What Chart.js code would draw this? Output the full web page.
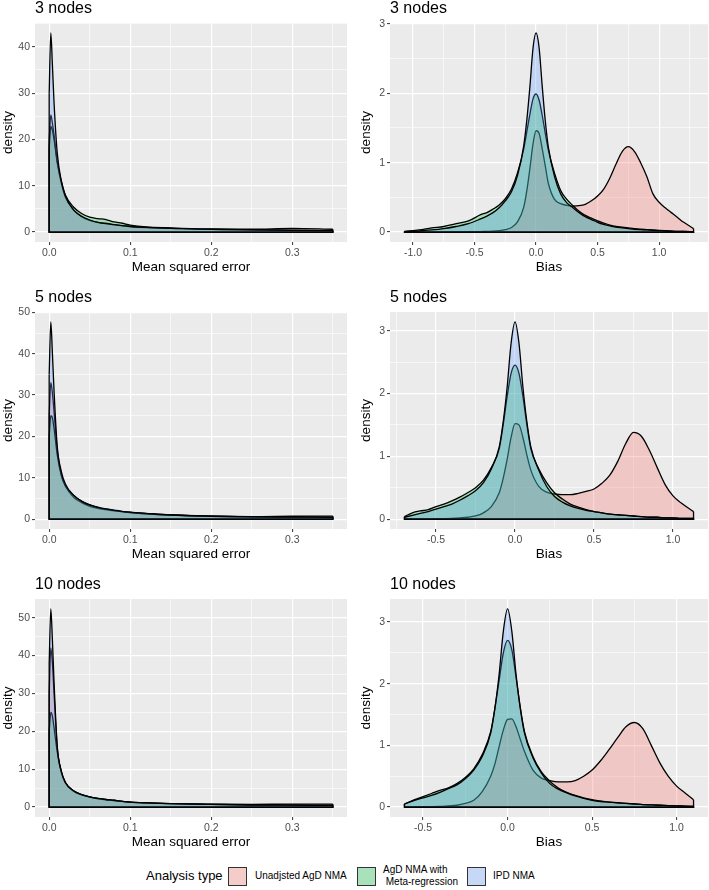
<!DOCTYPE html>
<html>
<head>
<meta charset="utf-8">
<script src="https://cdn.jsdelivr.net/npm/chart.js@4.4.1/dist/chart.umd.min.js"></script>
<style>
  body { margin: 0; background: #ffffff; width: 709px; height: 890px; position: relative; overflow: hidden;
         font-family: "Liberation Sans", Arial, sans-serif; }
  .legend-title { position: absolute; left: 146px; top: 868px; font-size: 13px; color: #000; }
  .legend-key { position: absolute; top: 867px; width: 19px; height: 19px; box-sizing: border-box;
                border: 1px solid #333333; background-color: #f2f2f2; }
  .legend-label { position: absolute; font-size: 10px; color: #000; white-space: pre; line-height: 12px; }
</style>
</head>
<body>
<script>
// ========================
// DATA
// ========================
const panelTitles = ["3 nodes", "5 nodes", "10 nodes"];
const seriesLabels = ["Unadjsted AgD NMA", "AgD NMA with\n Meta-regression", "IPD NMA"];
const legendTitle = "Analysis type";
const mseAxisTitle = "Mean squared error";
const biasAxisTitle = "Bias";
const yAxisTitle = "density";

// mean squared error densities
const mseX = [0, 0.002, 0.004, 0.006, 0.01, 0.015, 0.02, 0.03, 0.04, 0.05, 0.06, 0.07, 0.08, 0.09, 0.1, 0.12, 0.15, 0.2, 0.25, 0.3, 0.35];
const mse3Unadj = [20, 25.3, 23.5, 21, 15, 10.5, 7.5, 4.8, 3.3, 2.5, 2.1, 1.9, 1.6, 1.4, 1.2, 0.95, 0.8, 0.6, 0.6, 0.8, 0.6];
const mse3AgD   = [18, 22.8, 22, 20, 15, 11, 8, 5.4, 4.0, 3.2, 2.9, 2.7, 2.2, 1.9, 1.5, 1.1, 0.9, 0.6, 0.5, 0.4, 0.3];
const mse3IPD   = [30, 43, 36, 28, 17, 11, 7.8, 4.8, 3.4, 2.6, 2.1, 1.8, 1.6, 1.4, 1.2, 1.0, 0.8, 0.6, 0.45, 0.35, 0.3];
const mse5Unadj = [25, 33, 30.5, 26, 16.5, 10.8, 8, 5.3, 4.0, 3.1, 2.6, 2.3, 2.0, 1.8, 1.6, 1.3, 1.0, 0.7, 0.6, 0.7, 0.75];
const mse5AgD   = [20, 25, 24.5, 22, 15.5, 10.5, 8, 5.8, 4.4, 3.5, 2.8, 2.4, 2.1, 1.8, 1.6, 1.3, 1.0, 0.7, 0.55, 0.5, 0.45];
const mse5IPD   = [35, 47.7, 40, 31, 17.5, 11.5, 8.5, 5.8, 4.3, 3.4, 2.9, 2.5, 2.2, 1.9, 1.7, 1.4, 1.0, 0.7, 0.55, 0.5, 0.45];
const mse10Unadj = [30, 42, 38, 30, 15.5, 9.3, 6.4, 4.2, 3.2, 2.6, 2.2, 1.9, 1.7, 1.5, 1.3, 1.1, 0.9, 0.8, 0.7, 0.8, 0.8];
const mse10AgD   = [20, 25, 24, 21, 14.5, 9.2, 6.5, 4.3, 3.3, 2.7, 2.3, 2.0, 1.8, 1.5, 1.3, 1.1, 0.9, 0.7, 0.55, 0.5, 0.45];
const mse10IPD   = [38, 52.3, 44, 33, 16, 9.5, 6.5, 4.3, 3.3, 2.7, 2.3, 2.0, 1.8, 1.5, 1.3, 1.1, 0.9, 0.7, 0.55, 0.5, 0.45];

// bias densities
const bias3X = [-1.07, -0.95, -0.85, -0.75, -0.65, -0.55, -0.45, -0.4, -0.35, -0.3, -0.25, -0.2, -0.15, -0.1, -0.075, -0.05, -0.025, 0, 0.025, 0.05, 0.075, 0.1, 0.15, 0.2, 0.25, 0.3, 0.35, 0.4, 0.45, 0.5, 0.55, 0.6, 0.65, 0.7, 0.75, 0.8, 0.85, 0.9, 0.95, 1.0, 1.05, 1.1, 1.15, 1.2, 1.28];
const bias3Unadj = [0, 0, 0, 0, 0.002, 0.004, 0.006, 0.01, 0.012, 0.02, 0.035, 0.065, 0.15, 0.36, 0.6, 0.92, 1.27, 1.46, 1.42, 1.2, 0.95, 0.7, 0.47, 0.41, 0.385, 0.375, 0.38, 0.4, 0.45, 0.52, 0.62, 0.78, 0.98, 1.16, 1.23, 1.16, 1.0, 0.8, 0.55, 0.43, 0.35, 0.28, 0.21, 0.14, 0.05];
const bias3AgD   = [0.01, 0.03, 0.06, 0.08, 0.12, 0.16, 0.25, 0.28, 0.33, 0.39, 0.48, 0.62, 0.86, 1.2, 1.45, 1.7, 1.92, 1.99, 1.9, 1.68, 1.42, 1.18, 0.85, 0.6, 0.47, 0.38, 0.3, 0.24, 0.2, 0.16, 0.13, 0.1, 0.08, 0.07, 0.06, 0.05, 0.04, 0.035, 0.03, 0.025, 0.02, 0.015, 0.01, 0.01, 0.005];
const bias3IPD   = [0.005, 0.015, 0.03, 0.05, 0.08, 0.12, 0.19, 0.23, 0.28, 0.35, 0.45, 0.58, 0.82, 1.25, 1.62, 2.1, 2.65, 2.87, 2.65, 2.1, 1.6, 1.22, 0.8, 0.55, 0.42, 0.35, 0.28, 0.22, 0.18, 0.14, 0.11, 0.09, 0.07, 0.06, 0.05, 0.04, 0.035, 0.03, 0.025, 0.02, 0.015, 0.01, 0.01, 0.01, 0.005];

const bias5X = [-0.7, -0.65, -0.6, -0.55, -0.5, -0.45, -0.4, -0.35, -0.3, -0.25, -0.2, -0.15, -0.1, -0.075, -0.05, -0.025, 0, 0.025, 0.05, 0.075, 0.1, 0.15, 0.2, 0.25, 0.3, 0.35, 0.4, 0.45, 0.5, 0.55, 0.6, 0.65, 0.7, 0.75, 0.8, 0.85, 0.9, 0.95, 1.0, 1.05, 1.13];
const bias5Unadj = [0, 0, 0, 0, 0.005, 0.008, 0.012, 0.02, 0.03, 0.05, 0.1, 0.2, 0.42, 0.65, 0.95, 1.3, 1.52, 1.5, 1.3, 1.02, 0.78, 0.52, 0.43, 0.4, 0.39, 0.39, 0.41, 0.44, 0.48, 0.57, 0.7, 0.92, 1.2, 1.38, 1.32, 1.1, 0.82, 0.55, 0.37, 0.26, 0.12];
const bias5AgD   = [0.04, 0.1, 0.13, 0.15, 0.2, 0.24, 0.29, 0.35, 0.42, 0.5, 0.62, 0.82, 1.12, 1.5, 1.95, 2.32, 2.45, 2.32, 1.95, 1.5, 1.12, 0.8, 0.58, 0.42, 0.32, 0.24, 0.19, 0.15, 0.12, 0.1, 0.08, 0.07, 0.06, 0.05, 0.04, 0.03, 0.03, 0.02, 0.02, 0.01, 0.01];
const bias5IPD   = [0.03, 0.06, 0.09, 0.12, 0.16, 0.2, 0.24, 0.3, 0.37, 0.45, 0.58, 0.8, 1.15, 1.55, 2.1, 2.8, 3.14, 2.8, 2.1, 1.55, 1.15, 0.78, 0.52, 0.36, 0.27, 0.21, 0.17, 0.14, 0.12, 0.1, 0.08, 0.07, 0.06, 0.05, 0.04, 0.03, 0.03, 0.02, 0.02, 0.01, 0.01];

const bias10X = [-0.61, -0.55, -0.5, -0.45, -0.4, -0.35, -0.3, -0.25, -0.2, -0.15, -0.1, -0.075, -0.05, -0.025, 0, 0.025, 0.05, 0.075, 0.1, 0.15, 0.2, 0.25, 0.3, 0.35, 0.4, 0.45, 0.5, 0.55, 0.6, 0.65, 0.7, 0.75, 0.8, 0.85, 0.9, 0.95, 1.0, 1.05, 1.1];
const bias10Unadj = [0, 0.002, 0.004, 0.006, 0.01, 0.02, 0.03, 0.06, 0.11, 0.25, 0.5, 0.7, 0.98, 1.25, 1.42, 1.43, 1.3, 1.1, 0.9, 0.6, 0.47, 0.43, 0.41, 0.41, 0.43, 0.5, 0.6, 0.75, 0.93, 1.12, 1.3, 1.37, 1.27, 1.0, 0.72, 0.5, 0.34, 0.23, 0.12];
const bias10AgD   = [0.05, 0.12, 0.17, 0.22, 0.27, 0.31, 0.38, 0.48, 0.62, 0.85, 1.22, 1.6, 2.05, 2.5, 2.7, 2.55, 2.1, 1.62, 1.22, 0.82, 0.57, 0.42, 0.31, 0.24, 0.19, 0.15, 0.12, 0.1, 0.08, 0.07, 0.06, 0.05, 0.04, 0.035, 0.03, 0.025, 0.02, 0.015, 0.01];
const bias10IPD   = [0.05, 0.11, 0.15, 0.19, 0.24, 0.3, 0.36, 0.46, 0.6, 0.82, 1.2, 1.6, 2.15, 2.85, 3.21, 2.85, 2.15, 1.6, 1.2, 0.8, 0.55, 0.38, 0.29, 0.23, 0.18, 0.14, 0.11, 0.09, 0.08, 0.07, 0.06, 0.05, 0.04, 0.035, 0.03, 0.025, 0.02, 0.015, 0.01];

// tick values
const mseXTicks = [0, 0.1, 0.2, 0.3];
const mseXMinor = [0.05, 0.15, 0.25, 0.35];
const mse3YTicks = [0, 10, 20, 30, 40];
const mse5YTicks = [0, 10, 20, 30, 40, 50];
const mseYMinor = [5, 15, 25, 35, 45];
const biasXTicks = [-1, -0.5, 0, 0.5, 1];
const biasXMinor = [-1.25, -0.75, -0.25, 0.25, 0.75, 1.25];
const biasYTicks = [0, 1, 2, 3];
const biasYMinor = [0.5, 1.5, 2.5, 3.5];

// ========================
// STYLE
// ========================
const FONT = '"Liberation Sans", Arial, sans-serif';
const fillColors = ["rgba(248,118,109,0.3)", "rgba(0,186,56,0.3)", "rgba(97,156,255,0.3)"];
const PANEL_BG = "#EBEBEB";
const OUTLINE_W = 1.3;

Chart.defaults.font.family = FONT;

const panels = [
  { title: panelTitles[0], x: mseX, series: [mse3Unadj, mse3AgD, mse3IPD], xMajor: mseXTicks, xMinor: mseXMinor, yMajor: mse3YTicks, yMinor: mseYMinor, xTitle: mseAxisTitle,
    box: { left: 0, top: 0, width: 355, height: 278, padTop: 23, axisW: 35, padRight: 8 } },
  { title: panelTitles[0], x: bias3X, series: [bias3Unadj, bias3AgD, bias3IPD], xMajor: biasXTicks, xMinor: biasXMinor, yMajor: biasYTicks, yMinor: biasYMinor, xTitle: biasAxisTitle,
    box: { left: 358, top: 0, width: 351, height: 278, padTop: 23, axisW: 32, padRight: 1 } },
  { title: panelTitles[1], x: mseX, series: [mse5Unadj, mse5AgD, mse5IPD], xMajor: mseXTicks, xMinor: mseXMinor, yMajor: mse5YTicks, yMinor: mseYMinor, xTitle: mseAxisTitle,
    box: { left: 0, top: 280, width: 355, height: 285, padTop: 32, axisW: 35, padRight: 8 } },
  { title: panelTitles[1], x: bias5X, series: [bias5Unadj, bias5AgD, bias5IPD], xMajor: biasXTicks, xMinor: biasXMinor, yMajor: biasYTicks, yMinor: biasYMinor, xTitle: biasAxisTitle,
    box: { left: 358, top: 280, width: 351, height: 285, padTop: 32, axisW: 32, padRight: 1 } },
  { title: panelTitles[2], x: mseX, series: [mse10Unadj, mse10AgD, mse10IPD], xMajor: mseXTicks, xMinor: mseXMinor, yMajor: mse5YTicks, yMinor: mseYMinor, xTitle: mseAxisTitle,
    box: { left: 0, top: 570, width: 355, height: 283, padTop: 29, axisW: 35, padRight: 8 } },
  { title: panelTitles[2], x: bias10X, series: [bias10Unadj, bias10AgD, bias10IPD], xMajor: biasXTicks, xMinor: biasXMinor, yMajor: biasYTicks, yMinor: biasYMinor, xTitle: biasAxisTitle,
    box: { left: 358, top: 570, width: 351, height: 283, padTop: 29, axisW: 32, padRight: 1 } }
];

// ========================
// PLUGINS
// ========================
const panelBgPlugin = {
  id: "panelBg",
  beforeDraw(chart) {
    const a = chart.chartArea;
    const ctx = chart.ctx;
    ctx.save();
    ctx.fillStyle = PANEL_BG;
    ctx.fillRect(a.left, a.top, a.right - a.left, a.bottom - a.top);
    ctx.restore();
  }
};

const panelTitlePlugin = {
  id: "panelTitle",
  afterDraw(chart, args, opts) {
    const ctx = chart.ctx;
    ctx.save();
    ctx.fillStyle = "#000000";
    ctx.font = "16px " + FONT;
    ctx.textAlign = "left";
    ctx.textBaseline = "alphabetic";
    ctx.fillText(opts.text, chart.chartArea.left, chart.chartArea.top - 10);
    ctx.restore();
  }
};

// close each density polygon down to the baseline, like ggplot's full outline
const outlinePlugin = {
  id: "outline",
  afterDatasetDraw(chart, args) {
    const pts = args.meta.data;
    if (!pts.length) return;
    const ctx = chart.ctx;
    const y0 = chart.scales.y.getPixelForValue(0);
    const first = pts[0];
    const last = pts[pts.length - 1];
    ctx.save();
    ctx.strokeStyle = "#000000";
    ctx.lineWidth = OUTLINE_W;
    ctx.beginPath();
    ctx.moveTo(first.x, first.y);
    ctx.lineTo(first.x, y0);
    ctx.lineTo(last.x, y0);
    ctx.lineTo(last.x, last.y);
    ctx.stroke();
    ctx.restore();
  }
};

// ========================
// AXES
// ========================
function makeAxis(lo, hi, majors, minors, fmt, title, isX, size) {
  const all = majors.concat(minors).filter(v => v >= lo && v <= hi).sort((a, b) => a - b);
  const isMajor = ctx => ctx.tick && majors.includes(ctx.tick.value);
  return {
    type: "linear",
    min: lo,
    max: hi,
    afterBuildTicks: axis => { axis.ticks = all.map(v => ({ value: v })); },
    afterFit: axis => { if (isX) axis.height = size; else axis.width = size; },
    ticks: {
      autoSkip: false,
      maxRotation: 0,
      padding: 2,
      color: "#4D4D4D",
      font: { size: 10.5, family: FONT },
      callback: v => majors.includes(v) ? fmt(v) : ""
    },
    grid: {
      color: "#FFFFFF",
      lineWidth: ctx => isMajor(ctx) ? 1.2 : 0.6,
      tickColor: ctx => isMajor(ctx) ? "#333333" : "rgba(0,0,0,0)",
      tickWidth: 1,
      tickLength: 3,
      drawTicks: true
    },
    border: { display: false },
    title: {
      display: true,
      text: title,
      color: "#000000",
      font: { size: 13.5, family: FONT },
      padding: isX ? { top: 0, bottom: 3 } : { top: 0, bottom: 0 }
    }
  };
}

// ========================
// BUILD PANELS
// ========================
function buildPanel(panel) {
  const box = panel.box;
  const wrap = document.createElement("div");
  wrap.style.cssText = `position:absolute;left:${box.left}px;top:${box.top}px;width:${box.width}px;height:${box.height}px`;
  const canvas = document.createElement("canvas");
  canvas.width = box.width;
  canvas.height = box.height;
  wrap.appendChild(canvas);
  document.body.appendChild(wrap);

  const xs = panel.x;
  const xLo = Math.min(...xs);
  const xHi = Math.max(...xs);
  const xPad = (xHi - xLo) * 0.05;
  const yHi = Math.max(...panel.series.flat());
  const yPad = yHi * 0.05;

  // last series first so IPD NMA is painted on top
  const datasets = [];
  for (let i = panel.series.length - 1; i >= 0; i--) {
    datasets.push({
      label: seriesLabels[i],
      data: xs.map((x, k) => ({ x: x, y: panel.series[i][k] })),
      backgroundColor: fillColors[i],
      borderColor: "#000000",
      borderWidth: OUTLINE_W,
      fill: "origin",
      pointRadius: 0,
      cubicInterpolationMode: "monotone"
    });
  }

  return new Chart(canvas, {
    type: "line",
    data: { datasets: datasets },
    plugins: [panelBgPlugin, panelTitlePlugin, outlinePlugin],
    options: {
      responsive: false,
      animation: false,
      events: [],
      layout: { padding: { top: box.padTop, right: box.padRight, left: 0, bottom: 0 } },
      scales: {
        x: makeAxis(xLo - xPad, xHi + xPad, panel.xMajor, panel.xMinor, v => v.toFixed(1), panel.xTitle, true, 36),
        y: makeAxis(-yPad, yHi + yPad, panel.yMajor, panel.yMinor, v => String(v), yAxisTitle, false, box.axisW)
      },
      plugins: {
        legend: { display: false },
        tooltip: { enabled: false },
        panelTitle: { text: panel.title }
      }
    }
  });
}

panels.forEach(buildPanel);

// ========================
// LEGEND
// ========================
const legendKeyLeft = [228, 357, 467];
const legendLabelLeft = [255, 383, 493];

const lt = document.createElement("div");
lt.className = "legend-title";
lt.textContent = legendTitle;
document.body.appendChild(lt);

seriesLabels.forEach((label, i) => {
  const key = document.createElement("div");
  key.className = "legend-key";
  key.style.left = legendKeyLeft[i] + "px";
  key.style.backgroundImage = `linear-gradient(${fillColors[i]}, ${fillColors[i]})`;
  document.body.appendChild(key);

  const txt = document.createElement("div");
  txt.className = "legend-label";
  txt.style.left = legendLabelLeft[i] + "px";
  const lines = label.split("\n").length;
  txt.style.top = (876 - lines * 6) + "px";
  txt.textContent = label;
  document.body.appendChild(txt);
});
</script>
</body>
</html>
